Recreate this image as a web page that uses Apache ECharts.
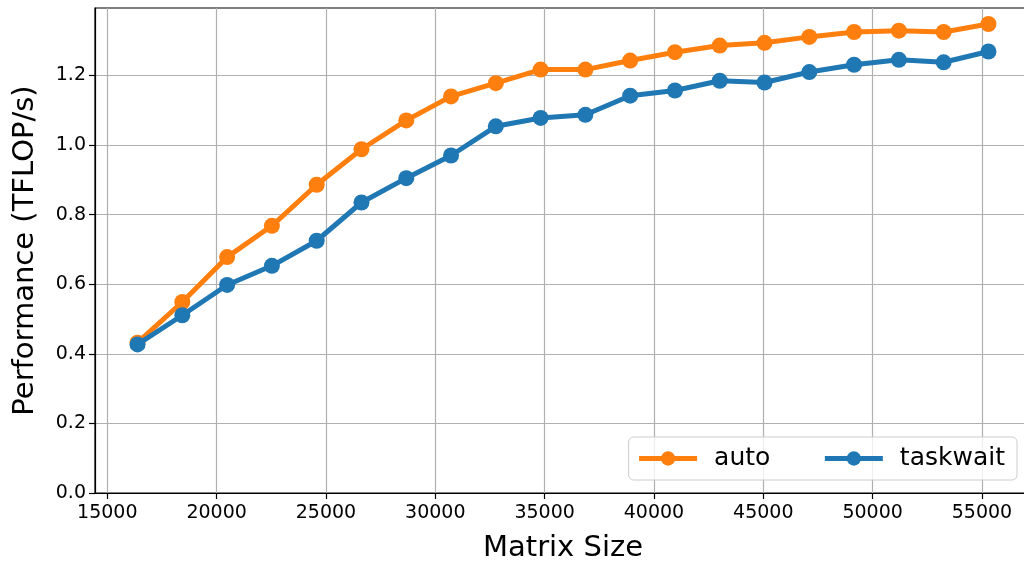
<!DOCTYPE html>
<html>
<head>
<meta charset="utf-8">
<script src="https://cdn.jsdelivr.net/npm/echarts@6/dist/echarts.min.js"></script>
<style>
  html, body { margin: 0; padding: 0; background: #fff; }
  #chart { width: 1024px; height: 563px; }
</style>
</head>
<body>
<div id="chart"></div>
<script>
// Matrix sizes (N) of the benchmark runs
const matrixSizes = [16384, 18432, 20480, 22528, 24576, 26624, 28672, 30720, 32768, 34816,
                     36864, 38912, 40960, 43008, 45056, 47104, 49152, 51200, 53248, 55296];
// Measured performance in TFLOP/s
const autoPerf = [0.432, 0.549, 0.678, 0.768, 0.886, 0.988, 1.071, 1.140, 1.178, 1.217,
                  1.217, 1.243, 1.267, 1.286, 1.294, 1.311, 1.325, 1.329, 1.325, 1.348];
const taskwaitPerf = [0.427, 0.511, 0.598, 0.653, 0.725, 0.835, 0.905, 0.970, 1.054, 1.078,
                      1.087, 1.142, 1.157, 1.185, 1.180, 1.210, 1.231, 1.245, 1.238, 1.269];
// Tick positions
const xTicks = [15000, 20000, 25000, 30000, 35000, 40000, 45000, 50000, 55000];
const yTicks = [0, 0.2, 0.4, 0.6, 0.8, 1.0, 1.2];

const FONT = 'DejaVu Sans';
const AUTO_COLOR = '#ff7f0e';
const TASKWAIT_COLOR = '#1f77b4';

// Axis extents with a 5% margin around the data
const xSpan = matrixSizes[matrixSizes.length - 1] - matrixSizes[0];
const xMin = matrixSizes[0] - 0.05 * xSpan;
const xMax = matrixSizes[matrixSizes.length - 1] + 0.05 * xSpan;
const allY = autoPerf.concat(taskwaitPerf);
const yLo = Math.min(...allY), yHi = Math.max(...allY);
const yMax = yHi + 0.05 * (yHi - yLo);

function pairs(ys) { return matrixSizes.map((x, i) => [x, ys[i]]); }

const chart = echarts.init(document.getElementById('chart'), null, { renderer: 'canvas' });

const axisCommon = {
  axisLine: { show: true, onZero: false, lineStyle: { color: '#000', width: 1.2 } },
  axisTick: { show: true, inside: false, length: 6, lineStyle: { color: '#000', width: 1.2 } },
  splitLine: { show: true, lineStyle: { color: '#b0b0b0', width: 1.2 } },
  axisLabel: { color: '#000', fontFamily: FONT, fontSize: 19 },
  nameTextStyle: { color: '#000', fontFamily: FONT, fontSize: 29 }
};

chart.setOption({
  animation: false,
  backgroundColor: '#fff',
  grid: { left: 95, top: 8, right: -7, bottom: 70, containLabel: false,
          outerBoundsMode: 'none',
          show: true, borderColor: '#000', borderWidth: 1.2 },
  xAxis: Object.assign({}, axisCommon, {
    type: 'value',
    min: xMin, max: xMax,
    name: 'Matrix Size', nameLocation: 'middle', nameGap: 41,
    axisTick: Object.assign({}, axisCommon.axisTick, { customValues: xTicks }),
    axisLabel: Object.assign({}, axisCommon.axisLabel, {
      customValues: xTicks, margin: 11,
      formatter: v => String(Math.round(v))
    })
  }),
  yAxis: Object.assign({}, axisCommon, {
    type: 'value',
    min: 0, max: yMax,
    name: 'Performance (TFLOP/s)', nameLocation: 'middle', nameGap: 55,
    axisTick: Object.assign({}, axisCommon.axisTick, { customValues: yTicks }),
    axisLabel: Object.assign({}, axisCommon.axisLabel, {
      customValues: yTicks, margin: 9,
      formatter: v => v.toFixed(1)
    })
  }),
  legend: {
    right: 7, bottom: 83,
    orient: 'horizontal',
    itemWidth: 58, itemHeight: 18, itemGap: 52,
    padding: [9, 12, 9, 8],
    backgroundColor: 'rgba(255,255,255,0.8)',
    borderColor: '#cccccc', borderWidth: 1, borderRadius: 5,
    lineStyle: { width: 5 },
    textStyle: { color: '#000', fontFamily: FONT, fontSize: 25, padding: [0, 0, 0, 12] },
    data: ['auto', 'taskwait']
  },
  series: [
    {
      name: 'auto', type: 'line', data: pairs(autoPerf),
      symbol: 'circle', symbolSize: 16,
      lineStyle: { color: AUTO_COLOR, width: 5 },
      itemStyle: { color: AUTO_COLOR },
      z: 2
    },
    {
      name: 'taskwait', type: 'line', data: pairs(taskwaitPerf),
      symbol: 'circle', symbolSize: 16,
      lineStyle: { color: TASKWAIT_COLOR, width: 5 },
      itemStyle: { color: TASKWAIT_COLOR },
      z: 3
    }
  ]
});
</script>
</body>
</html>
